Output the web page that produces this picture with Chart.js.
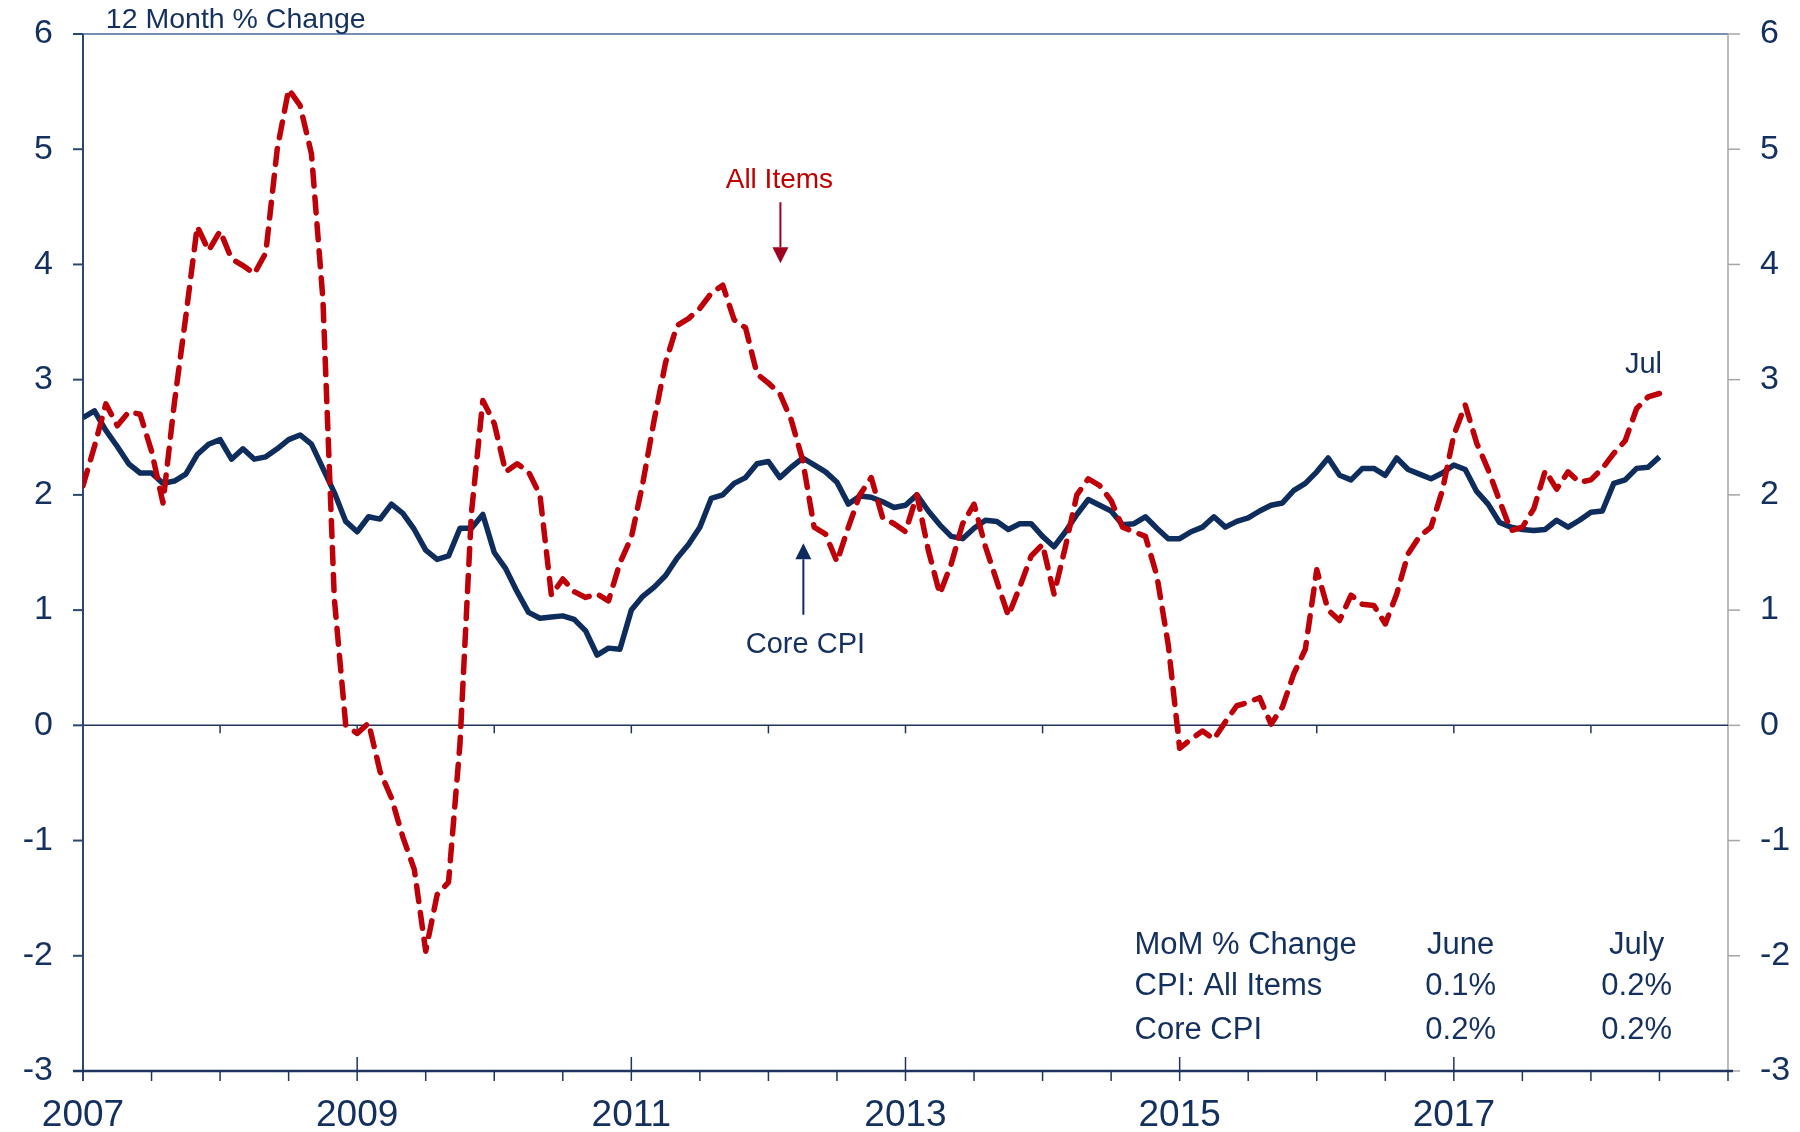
<!DOCTYPE html>
<html>
<head>
<meta charset="utf-8">
<script src="https://cdn.jsdelivr.net/npm/chart.js@4.4.1/dist/chart.umd.min.js"></script>
<style>
  html, body { margin: 0; padding: 0; background: #ffffff; }
  #wrap { width: 1800px; height: 1132px; }
</style>
</head>
<body>
<div id="wrap"><canvas id="c" width="1800" height="1132"></canvas></div>
<script>
// ---- Data (monthly, Jan 2007 .. Jul 2018), 12-month % change ----
const startYear = 2007;
const allItems = [
  2.08, 2.42, 2.79, 2.60, 2.72, 2.70, 2.38, 1.93, 2.80, 3.55, 4.33, 4.12,
  4.29, 4.05, 3.99, 3.92, 4.10, 5.00, 5.52, 5.38, 4.96, 3.70, 1.10, 0.00,
  -0.07, 0.02, -0.40, -0.63, -0.97, -1.25, -1.96, -1.47, -1.36, -0.16, 1.84, 2.82,
  2.62, 2.20, 2.27, 2.20, 2.00, 1.13, 1.27, 1.16, 1.11, 1.14, 1.08, 1.41,
  1.63, 2.10, 2.65, 3.15, 3.47, 3.53, 3.62, 3.75, 3.82, 3.52, 3.45, 3.05,
  2.97, 2.88, 2.65, 2.30, 1.72, 1.66, 1.42, 1.72, 2.00, 2.15, 1.80, 1.75,
  1.68, 2.00, 1.52, 1.14, 1.40, 1.75, 1.92, 1.55, 1.25, 0.95, 1.20, 1.47,
  1.57, 1.14, 1.55, 2.00, 2.14, 2.08, 1.95, 1.72, 1.68, 1.64, 1.30, 0.70,
  -0.20, -0.12, -0.05, -0.12, 0.03, 0.17, 0.20, 0.24, 0.01, 0.16, 0.45, 0.66,
  1.35, 1.00, 0.91, 1.13, 1.05, 1.04, 0.88, 1.14, 1.49, 1.64, 1.72, 2.04,
  2.52, 2.78, 2.45, 2.22, 1.95, 1.69, 1.72, 1.88, 2.21, 2.05, 2.20, 2.11,
  2.13, 2.23, 2.36, 2.47, 2.75, 2.85, 2.88
];
const coreCpi = [
  2.67, 2.73, 2.56, 2.42, 2.27, 2.19, 2.19, 2.10, 2.12, 2.18, 2.35, 2.44,
  2.48, 2.31, 2.40, 2.31, 2.33, 2.40, 2.48, 2.52, 2.44, 2.23, 2.02, 1.77,
  1.68, 1.81, 1.79, 1.92, 1.84, 1.70, 1.52, 1.44, 1.47, 1.71, 1.71, 1.83,
  1.50, 1.36, 1.16, 0.98, 0.93, 0.94, 0.95, 0.92, 0.82, 0.61, 0.67, 0.66,
  1.00, 1.12, 1.20, 1.30, 1.45, 1.57, 1.72, 1.97, 2.00, 2.10, 2.15, 2.27,
  2.29, 2.15, 2.24, 2.32, 2.26, 2.20, 2.11, 1.92, 1.99, 1.98, 1.94, 1.89,
  1.91, 2.00, 1.86, 1.74, 1.64, 1.62, 1.71, 1.78, 1.77, 1.70, 1.75, 1.75,
  1.64, 1.55, 1.68, 1.83, 1.96, 1.91, 1.86, 1.74, 1.75, 1.81, 1.71, 1.62,
  1.62, 1.68, 1.72, 1.81, 1.72, 1.77, 1.80, 1.86, 1.91, 1.93, 2.04, 2.10,
  2.20, 2.32, 2.17, 2.13, 2.23, 2.23, 2.17, 2.32, 2.22, 2.18, 2.14, 2.19,
  2.26, 2.22, 2.03, 1.92, 1.76, 1.72, 1.70, 1.69, 1.70, 1.78, 1.72, 1.78,
  1.85, 1.86, 2.10, 2.13, 2.23, 2.24, 2.33
];
const xTickLabels = ['2007', '2009', '2011', '2013', '2015', '2017'];
const yTicks = [-3, -2, -1, 0, 1, 2, 3, 4, 5, 6];
const tableHeader = ['MoM % Change', 'June', 'July'];
const tableRows = [
  ['CPI: All Items', '0.1%', '0.2%'],
  ['Core CPI', '0.2%', '0.2%']
];
const titleText = '12 Month % Change';

// ---- Styling ----
const NAVY = '#14305F';
const RED = '#BE0008';
const FONT = "'Liberation Sans', Arial, Helvetica, sans-serif";

const toPoints = arr => arr.map((v, i) => ({ x: i, y: v }));

const decor = {
  id: 'decor',
  beforeDatasetsDraw(chart) {
    const ctx = chart.ctx;
    const { left, right, top, bottom } = chart.chartArea;
    const xs = chart.scales.x, ys = chart.scales.y;
    ctx.save();
    ctx.lineCap = 'butt';
    // top border
    ctx.strokeStyle = '#4A6A9A'; ctx.lineWidth = 1.5;
    ctx.beginPath(); ctx.moveTo(left, top); ctx.lineTo(right, top); ctx.stroke();
    // right axis (grey) with outward ticks
    ctx.strokeStyle = '#A6A6A6'; ctx.lineWidth = 1.5;
    ctx.beginPath(); ctx.moveTo(right, top); ctx.lineTo(right, bottom); ctx.stroke();
    yTicks.forEach(v => {
      const py = ys.getPixelForValue(v);
      ctx.beginPath(); ctx.moveTo(right, py); ctx.lineTo(right + 12, py); ctx.stroke();
    });
    // zero line with yearly ticks
    const y0 = ys.getPixelForValue(0);
    ctx.strokeStyle = '#1F3560'; ctx.lineWidth = 1.5;
    ctx.beginPath(); ctx.moveTo(left, y0); ctx.lineTo(right, y0); ctx.stroke();
    for (let m = 12; m < 144; m += 12) {
      const px = xs.getPixelForValue(m);
      ctx.beginPath(); ctx.moveTo(px, y0); ctx.lineTo(px, y0 + 8); ctx.stroke();
    }
    // left axis with outward ticks
    ctx.strokeStyle = '#2C4770'; ctx.lineWidth = 2;
    ctx.beginPath(); ctx.moveTo(left, top); ctx.lineTo(left, bottom + 10); ctx.stroke();
    yTicks.forEach(v => {
      const py = ys.getPixelForValue(v);
      ctx.beginPath(); ctx.moveTo(left - 10, py); ctx.lineTo(left, py); ctx.stroke();
    });
    // bottom axis with major (2y) and minor (6m) ticks
    ctx.strokeStyle = '#1F3560'; ctx.lineWidth = 2.5;
    ctx.beginPath(); ctx.moveTo(left - 10, bottom); ctx.lineTo(right + 5, bottom); ctx.stroke();
    ctx.lineWidth = 1.5;
    for (let m = 6; m <= 144; m += 6) {
      const px = xs.getPixelForValue(m);
      const major = (m % 24 === 0) && m < 144;
      ctx.beginPath();
      ctx.moveTo(px, major ? bottom - 14 : bottom);
      ctx.lineTo(px, bottom + 10);
      ctx.stroke();
    }
    ctx.restore();
  },
  afterDraw(chart) {
    const ctx = chart.ctx;
    const xs = chart.scales.x, ys = chart.scales.y;
    const X = m => xs.getPixelForValue(m);
    const Y = v => ys.getPixelForValue(v);
    ctx.save();
    ctx.textBaseline = 'middle';
    // title
    ctx.fillStyle = NAVY;
    ctx.font = '28.5px ' + FONT;
    ctx.textAlign = 'left';
    ctx.fillText(titleText, X(2.0), Y(6.12));
    // All Items label + arrow
    ctx.fillStyle = '#C00000';
    ctx.font = '28px ' + FONT;
    ctx.textAlign = 'center';
    ctx.fillText('All Items', X(60.96), Y(4.73));
    drawArrow(ctx, X(61.05), Y(4.54), Y(4.01), '#A00020');
    // Core CPI label + arrow
    ctx.fillStyle = NAVY;
    ctx.font = '29px ' + FONT;
    ctx.fillText('Core CPI', X(63.24), Y(0.70));
    drawArrow(ctx, X(63.06), Y(0.96), Y(1.58), '#0F2A5C');
    // Jul label
    ctx.fillStyle = NAVY;
    ctx.fillText('Jul', X(136.6), Y(3.13));
    // MoM table
    ctx.font = '31px ' + FONT;
    const rowsV = [-1.91, -2.27, -2.65];
    const all = [tableHeader].concat(tableRows);
    all.forEach((row, r) => {
      ctx.textAlign = 'left';
      ctx.fillText(row[0], X(92.05), Y(rowsV[r]));
      ctx.textAlign = 'center';
      ctx.fillText(row[1], X(120.6), Y(rowsV[r]));
      ctx.fillText(row[2], X(136.0), Y(rowsV[r]));
    });
    ctx.restore();
  }
};

function drawArrow(ctx, x, yFrom, yTip, color) {
  const dir = yTip > yFrom ? 1 : -1;
  const headLen = 16, headHalf = 8;
  ctx.save();
  ctx.strokeStyle = color; ctx.fillStyle = color; ctx.lineWidth = 2;
  ctx.beginPath(); ctx.moveTo(x, yFrom); ctx.lineTo(x, yTip - dir * headLen); ctx.stroke();
  ctx.beginPath();
  ctx.moveTo(x, yTip);
  ctx.lineTo(x - headHalf, yTip - dir * headLen);
  ctx.lineTo(x + headHalf, yTip - dir * headLen);
  ctx.closePath(); ctx.fill();
  ctx.restore();
}

const fixVertical = width => s => {
  s.width = width;
  s.paddingTop = 0;
  s.paddingBottom = 0;
};

new Chart(document.getElementById('c'), {
  type: 'line',
  data: {
    datasets: [
      {
        label: 'All Items',
        data: toPoints(allItems),
        borderColor: RED,
        borderWidth: 5.5,
        borderDash: [16, 11],
        borderCapStyle: 'round',
        borderJoinStyle: 'round',
        pointRadius: 0,
        tension: 0,
        fill: false
      },
      {
        label: 'Core CPI',
        data: toPoints(coreCpi),
        borderColor: '#0F2D5C',
        borderWidth: 5.5,
        borderJoinStyle: 'round',
        borderCapStyle: 'butt',
        pointRadius: 0,
        tension: 0,
        fill: false
      }
    ]
  },
  options: {
    responsive: false,
    animation: false,
    devicePixelRatio: 1,
    layout: { padding: { top: 34, left: 0, right: 0, bottom: 0 } },
    plugins: { legend: { display: false }, tooltip: { enabled: false } },
    scales: {
      x: {
        type: 'linear',
        position: 'bottom',
        min: 0,
        max: 144,
        grid: { display: false, drawTicks: false },
        border: { display: false },
        ticks: {
          stepSize: 24,
          autoSkip: false,
          maxRotation: 0,
          padding: 23,
          color: NAVY,
          font: { size: 37, family: FONT },
          callback: v => xTickLabels[v / 24] || ''
        },
        afterFit: s => { s.height = 61; }
      },
      y: {
        position: 'left',
        min: -3,
        max: 6,
        grid: { display: false, drawTicks: false },
        border: { display: false },
        ticks: { stepSize: 1, padding: 30, color: NAVY, font: { size: 34, family: FONT } },
        afterFit: fixVertical(83)
      },
      y2: {
        position: 'right',
        min: -3,
        max: 6,
        grid: { display: false, drawTicks: false },
        border: { display: false },
        ticks: { stepSize: 1, padding: 32, color: NAVY, font: { size: 34, family: FONT } },
        afterFit: fixVertical(72)
      }
    }
  },
  plugins: [decor]
});
</script>
</body>
</html>
